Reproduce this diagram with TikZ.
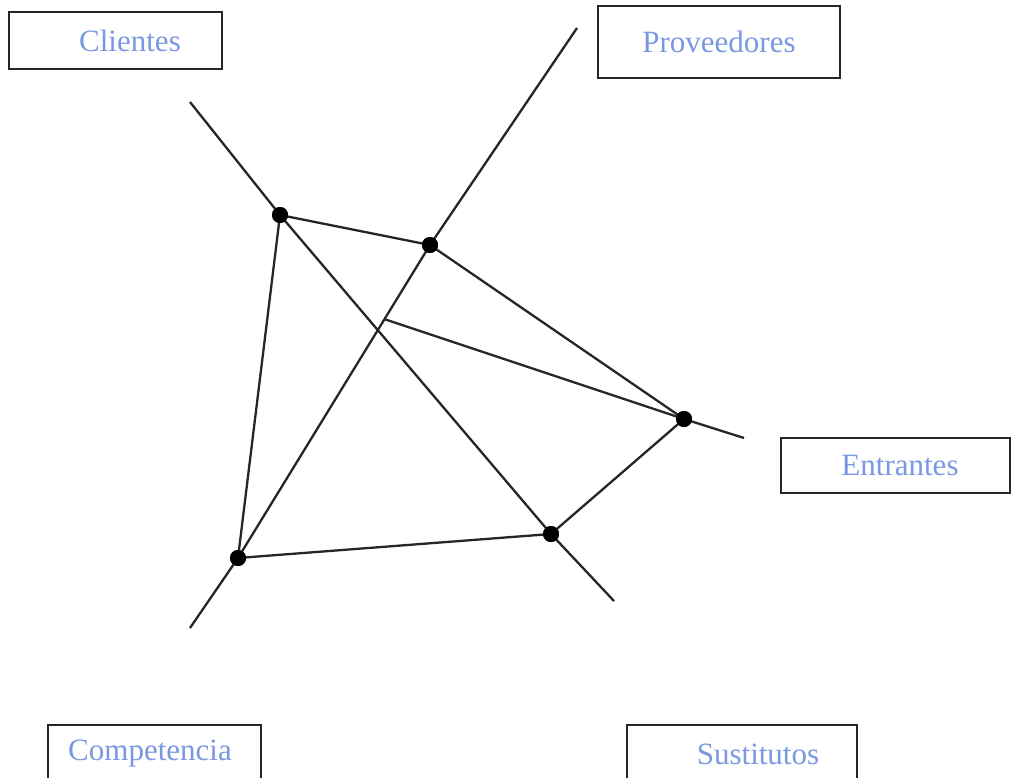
\documentclass[tikz,border=0pt]{standalone}
\usepackage{fontspec}
\setmainfont{Liberation Serif}
\usepackage{tikz}
\definecolor{etiqueta}{RGB}{122,152,226}
\definecolor{trazo}{HTML}{262626}

\begin{document}
\begin{tikzpicture}[x=1pt, y=-1pt,
  fuerza/.style={draw=trazo, line width=2pt, inner sep=0pt, font=\fontsize{31}{36}\selectfont, text=etiqueta},
  eje/.style={trazo, line width=2.3pt},
  punto/.style={circle, fill=black, inner sep=0pt, minimum size=16pt}
]
  \clip (0,0) rectangle (1011,778);
  \fill[white] (0,0) rectangle (1011,778);
  % fuerzas
  \node[fuerza, minimum width=213pt, minimum height=57pt] (cli) at (115.5,40.5) {\hspace*{29pt}Clientes};
  \node[fuerza, minimum width=242pt, minimum height=72pt] (prov) at (719,42) {Proveedores};
  \node[fuerza, minimum width=229pt, minimum height=55pt] (ent) at (895.5,465.5) {\hspace*{9pt}Entrantes};
  \node[fuerza, minimum width=213pt, minimum height=58pt] (comp) at (154.5,754) {Competencia\hspace*{9pt}};
  \node[fuerza, minimum width=230pt, minimum height=58pt] (sust) at (742,754) {\hspace*{32pt}Sustitutos};
  % puntos
  \node[punto] (p1) at (280,215) {};
  \node[punto] (p2) at (430,245) {};
  \node[punto] (p3) at (684,419) {};
  \node[punto] (p4) at (551,534) {};
  \node[punto] (p5) at (238,558) {};
  % extremos de los ejes
  \coordinate (cliA) at (190,102);
  \coordinate (cliB) at (614,601);
  \coordinate (provA) at (577,28);
  \coordinate (provB) at (190,628);
  \coordinate (entA) at (384,319);
  \coordinate (entB) at (744,438);
  \draw[eje] (cliA) -- (p1.center) -- (p4.center) -- (cliB);
  \draw[eje] (provA) -- (p2.center) -- (p5.center) -- (provB);
  \draw[eje] (entA) -- (p3.center) -- (entB);
  \draw[eje] (p1.center) -- (p2.center) -- (p3.center) -- (p4.center) -- (p5.center) -- cycle;
  \foreach \p in {p1,p2,p3,p4,p5} \fill (\p) circle (8pt);
\end{tikzpicture}
\end{document}
